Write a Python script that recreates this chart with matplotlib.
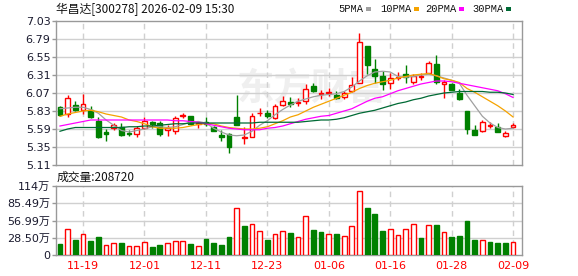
import matplotlib
matplotlib.use("Agg")
import matplotlib.pyplot as plt
from matplotlib.patches import Rectangle
import numpy as np

# 华昌达 300278 日K, 2025-11-14 .. 2026-02-09
dates = ["11-14", "11-17", "11-18", "11-19", "11-20", "11-21", "11-24", "11-25", "11-26", "11-27",
         "11-28", "12-01", "12-02", "12-03", "12-04", "12-05", "12-08", "12-09", "12-10", "12-11",
         "12-12", "12-15", "12-16", "12-17", "12-18", "12-19", "12-22", "12-23", "12-24", "12-25",
         "12-26", "12-29", "12-30", "12-31", "01-05", "01-06", "01-07", "01-08", "01-09", "01-12",
         "01-13", "01-14", "01-15", "01-16", "01-19", "01-20", "01-21", "01-22", "01-23", "01-26",
         "01-27", "01-28", "01-29", "01-30", "02-02", "02-03", "02-04", "02-05", "02-06", "02-09"]

opens = [5.88, 5.79, 5.91, 5.85, 5.84, 5.70, 5.55, 5.60, 5.61, 5.535,
         5.52, 5.61, 5.68, 5.67, 5.58, 5.57, 5.77, 5.76, 5.655, 5.68,
         5.61, 5.515, 5.52, 5.75, 5.47, 5.49, 5.80, 5.81, 5.73, 5.91,
         5.955, 5.935, 5.96, 6.16, 6.055, 6.075, 6.05, 6.02, 6.10, 6.21,
         6.70, 6.39, 6.30, 6.21, 6.275, 6.33, 6.22, 6.285, 6.34, 6.46,
         6.185, 6.19, 6.065, 5.83, 5.57, 5.57, 5.635, 5.61, 5.50, 5.62]
highs = [5.90, 6.04, 5.96, 6.06, 5.90, 5.75, 5.59, 5.67, 5.67, 5.58,
         5.63, 5.75, 5.70, 5.69, 5.65, 5.76, 5.81, 5.77, 5.69, 5.75,
         5.63, 5.58, 5.54, 6.05, 5.62, 5.81, 5.865, 5.84, 5.93, 6.03,
         6.02, 6.00, 6.19, 6.20, 6.11, 6.14, 6.10, 6.10, 6.28, 6.87,
         6.70, 6.52, 6.36, 6.34, 6.35, 6.45, 6.33, 6.34, 6.50, 6.58,
         6.25, 6.21, 6.13, 5.83, 5.64, 5.71, 5.68, 5.665, 5.57, 5.665]
lows = [5.77, 5.75, 5.83, 5.79, 5.73, 5.47, 5.43, 5.58, 5.50, 5.50,
        5.49, 5.59, 5.61, 5.50, 5.50, 5.53, 5.73, 5.65, 5.61, 5.63,
        5.56, 5.43, 5.27, 5.64, 5.39, 5.48, 5.77, 5.73, 5.72, 5.90,
        5.88, 5.90, 5.93, 6.08, 5.99, 6.03, 5.99, 5.99, 6.09, 6.20,
        6.33, 6.20, 6.11, 6.12, 6.25, 6.20, 6.19, 6.25, 6.33, 6.19,
        6.00, 6.11, 5.98, 5.52, 5.51, 5.55, 5.60, 5.545, 5.49, 5.61]
closes = [5.78, 6.00, 5.84, 5.92, 5.75, 5.49, 5.53, 5.64, 5.51, 5.52,
          5.61, 5.70, 5.66, 5.52, 5.60, 5.74, 5.78, 5.66, 5.67, 5.655,
          5.565, 5.49, 5.35, 5.65, 5.48, 5.76, 5.81, 5.765, 5.90, 5.96,
          5.93, 5.95, 6.12, 6.10, 6.065, 6.09, 6.01, 6.07, 6.18, 6.75,
          6.45, 6.30, 6.19, 6.265, 6.285, 6.29, 6.30, 6.295, 6.47, 6.215,
          6.22, 6.115, 5.99, 5.595, 5.51, 5.68, 5.645, 5.555, 5.53, 5.645]

# 成交量, 单位: 万手
volumes = [18.2, 42.4, 24.8, 34.1, 23.0, 29.2, 16.0, 19.3, 19.8, 14.3,
           14.3, 21.0, 13.2, 16.5, 19.3, 23.0, 23.0, 18.2, 14.3, 26.4,
           19.8, 16.5, 29.7, 77.0, 48.0, 51.2, 39.0, 24.8, 34.7, 39.0,
           36.3, 29.2, 63.9, 41.3, 38.0, 34.1, 34.7, 30.8, 47.4, 105.0,
           77.6, 68.3, 39.7, 42.4, 32.5, 42.4, 50.7, 28.1, 49.0, 49.6,
           38.0, 29.7, 31.4, 56.2, 24.8, 24.2, 22.0, 20.4, 20.4, 20.87]

ma5 = [5.86, 5.87, 5.88, 5.88, 5.85, 5.80, 5.71, 5.64, 5.57, 5.55,
       5.57, 5.59, 5.62, 5.62, 5.61, 5.62, 5.65, 5.68, 5.69, 5.67,
       5.60, 5.55, 5.51, 5.50, 5.51, 5.56, 5.64, 5.70, 5.78, 5.85,
       5.91, 5.96, 5.99, 6.02, 6.04, 6.05, 6.06, 6.09, 6.15, 6.23,
       6.30, 6.35, 6.36, 6.35, 6.29, 6.28, 6.29, 6.31, 6.32, 6.30,
       6.27, 6.24, 6.20, 6.04, 5.90, 5.76, 5.67, 5.61, 5.59, 5.60]
ma10 = [5.76, 5.79, 5.81, 5.83, 5.84, 5.82, 5.79, 5.77, 5.75, 5.71,
        5.69, 5.66, 5.62, 5.60, 5.60, 5.60, 5.61, 5.63, 5.65, 5.66,
        5.66, 5.63, 5.61, 5.60, 5.59, 5.59, 5.60, 5.62, 5.66, 5.70,
        5.75, 5.78, 5.83, 5.88, 5.92, 5.96, 6.00, 6.04, 6.08, 6.13,
        6.17, 6.20, 6.22, 6.24, 6.27, 6.29, 6.31, 6.32, 6.33, 6.30,
        6.26, 6.24, 6.21, 6.13, 6.08, 6.02, 5.96, 5.90, 5.83, 5.75]
ma20 = [5.63, 5.65, 5.67, 5.69, 5.71, 5.71, 5.71, 5.71, 5.71, 5.71,
        5.71, 5.71, 5.71, 5.71, 5.71, 5.70, 5.70, 5.69, 5.68, 5.66,
        5.64, 5.62, 5.60, 5.59, 5.58, 5.58, 5.58, 5.60, 5.61, 5.63,
        5.66, 5.69, 5.72, 5.74, 5.76, 5.77, 5.80, 5.83, 5.86, 5.91,
        5.96, 6.00, 6.02, 6.06, 6.10, 6.13, 6.16, 6.19, 6.21, 6.23,
        6.23, 6.22, 6.20, 6.18, 6.16, 6.14, 6.12, 6.10, 6.06, 6.01]
ma30 = [5.56, 5.59, 5.61, 5.61, 5.61, 5.61, 5.61, 5.61, 5.61, 5.62,
        5.62, 5.63, 5.63, 5.64, 5.65, 5.66, 5.66, 5.67, 5.67, 5.67,
        5.67, 5.67, 5.67, 5.67, 5.67, 5.67, 5.68, 5.68, 5.68, 5.68,
        5.68, 5.68, 5.69, 5.70, 5.71, 5.71, 5.72, 5.74, 5.77, 5.80,
        5.82, 5.84, 5.87, 5.90, 5.93, 5.95, 5.98, 6.00, 6.03, 6.05,
        6.07, 6.08, 6.09, 6.09, 6.09, 6.09, 6.08, 6.08, 6.07, 6.05]

price_ticks = [7.03, 6.79, 6.55, 6.31, 6.07, 5.83, 5.59, 5.35, 5.11]
vol_ticks = [0, 28.50, 56.99, 85.49, 114]
vol_labels = ["0", "28.50万", "56.99万", "85.49万", "114万"]
label_idx = [3, 11, 19, 27, 35, 43, 51, 59]

RED = "#ff0000"
GREEN = "#008000"
GRID = "#d0d0d0"
FRAME = "#999999"
W, H = 578, 276

plt.rcParams["font.family"] = ["DejaVu Sans", "Noto Sans CJK SC"]

fig = plt.figure(figsize=(W / 100, H / 100), dpi=100)


def box(left, top, right, bottom):
    return [left / W, 1 - bottom / H, (right - left) / W, (bottom - top) / H]


ax = fig.add_axes(box(56, 21, 522, 165))
axv = fig.add_axes(box(56, 186, 522, 255))

x = np.arange(len(dates))
o = np.array(opens)
c = np.array(closes)
up = c >= o

# watermark
ax.text(0.55, 0.53, "东方财富", transform=ax.transAxes, ha="center", va="center",
        fontsize=27, color="#efefef", family=["Noto Sans CJK SC"], fontweight="bold", zorder=0)

for a in (ax, axv):
    a.set_xlim(-0.52, 60.16)
    for i in label_idx:
        a.axvline(i, color=GRID, lw=1, ls=(0, (4, 3)), zorder=1)
    for s in a.spines.values():
        s.set_color(FRAME)
        s.set_linewidth(1)

# price panel
ax.set_ylim(5.11, 7.03)
ax.set_yticks(price_ticks)
ax.set_yticklabels([f"{t:.2f}" for t in price_ticks])
for t in price_ticks[1:-1]:
    ax.axhline(t, color=GRID, lw=1, zorder=1)
ax.set_xticks([])
ax.tick_params(axis="y", length=3, width=1, color=FRAME, labelsize=8, labelcolor="#1a1a2e", pad=1)

colors = np.where(up, RED, GREEN)
ax.vlines(x, lows, highs, colors=colors, lw=1, zorder=3)
body_h = np.abs(c - o)
ax.bar(x, body_h, bottom=np.minimum(o, c), width=0.62,
       facecolor=np.where(up, "white", GREEN), edgecolor=colors, lw=1, zorder=4)

ax.plot(x, ma5, color="#a0a0a0", lw=0.9, zorder=5)
ax.plot(x, ma10, color="#f5a300", lw=0.9, zorder=5)
ax.plot(x, ma20, color="#ff00ff", lw=0.9, zorder=5)
ax.plot(x, ma30, color="#006a35", lw=0.9, zorder=5)

# volume panel
prev = np.concatenate([[o[0]], c[:-1]])
vup = c >= prev
vup[0] = up[0]
axv.set_ylim(0, 114)
axv.set_yticks(vol_ticks)
axv.set_yticklabels(vol_labels)
for t in vol_ticks[1:-1]:
    axv.axhline(t, color=GRID, lw=1, zorder=1)
axv.bar(x, volumes, width=0.62, facecolor=np.where(vup, "white", GREEN),
        edgecolor=np.where(vup, RED, GREEN), lw=1, zorder=3)
axv.set_xticks(label_idx)
axv.set_xticklabels([dates[i] for i in label_idx])
axv.tick_params(axis="x", length=0, labelsize=8, labelcolor=RED, pad=4)
axv.tick_params(axis="y", length=3, width=1, color=FRAME, labelsize=8, labelcolor="#1a1a2e", pad=1)

# header texts
fig.text(56 / W, 1 - 9 / H, "华昌达[300278] 2026-02-09 15:30", ha="left", va="center",
         fontsize=8.5, color="#111111", family=["Noto Sans CJK SC", "DejaVu Sans"])
legend = [("5PMA", 338, 366, "#a0a0a0"), ("10PMA", 380, 414, "#f5a300"),
          ("20PMA", 425, 459, "#ff00ff"), ("30PMA", 472, 506, "#006a35")]
for name, tx, sx, col in legend:
    fig.text(tx / W, 1 - 9 / H, name, ha="left", va="center", fontsize=7.5,
             color="#111111", family=["Liberation Mono"])
    fig.patches.append(Rectangle((sx / W, 1 - 11 / H), 5 / W, 4 / H, transform=fig.transFigure,
                                 facecolor=col, edgecolor="none"))
fig.text(57 / W, 1 - 177 / H, "成交量:208720", ha="left", va="center",
         fontsize=8.5, color="#111111", family=["Noto Sans CJK SC", "DejaVu Sans"])

fig.savefig("out.png", dpi=100, facecolor="white")
